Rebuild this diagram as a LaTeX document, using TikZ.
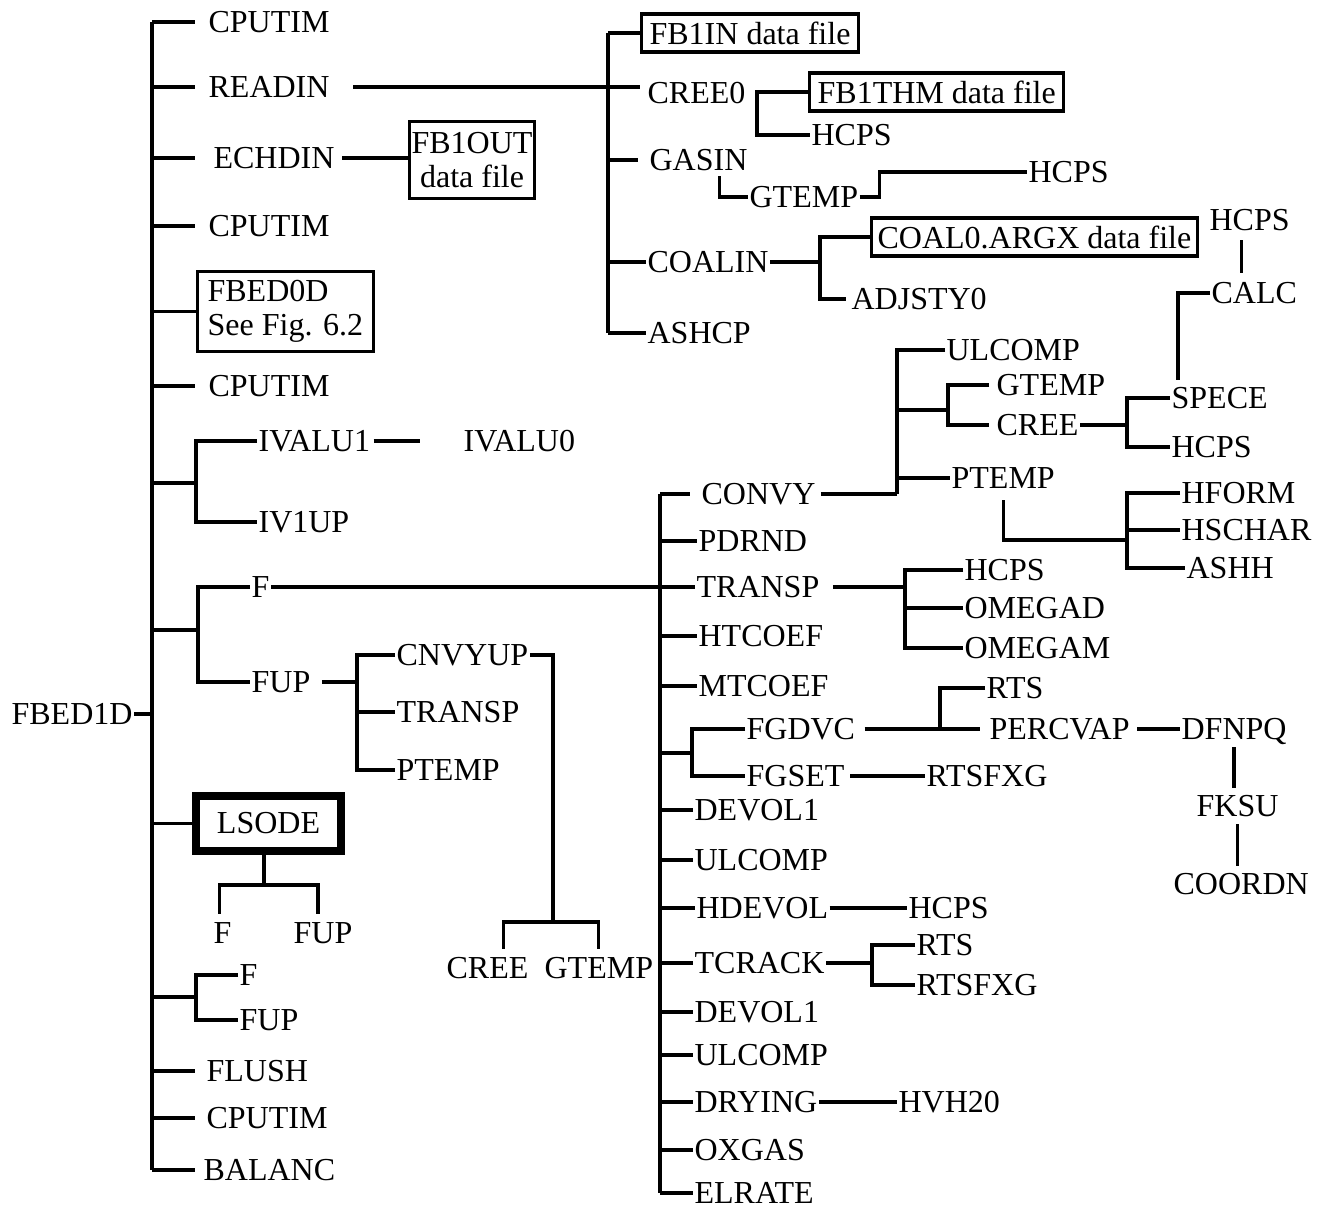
\documentclass[tikz,border=0pt]{standalone}
\usepackage{fontspec}
\setmainfont{Liberation Serif}
\usetikzlibrary{positioning}

\begin{document}
\begin{tikzpicture}[x=0.5pt,y=-0.5pt,line width=1.6pt,font=\fontsize{16}{17}\selectfont,
    prog/.style={anchor=west,inner sep=0pt,text height=10.6pt,text depth=0pt},
    file/.style={draw,anchor=west,inner xsep=4pt,inner ysep=4pt,text height=11pt,text depth=0pt},
    twoline/.style={draw,anchor=north west,inner xsep=5pt,inner ysep=0pt},
    lsode/.style={draw,line width=4pt,minimum width=72.5pt,minimum height=27.5pt,inner sep=0pt}]
    \useasboundingbox (0,0) rectangle (1320,1211);

    % main column under FBED1D
    \node[prog] (fbed1d) at (10,714) {FBED1D};
    \node[prog] (cpua) at (207,22) {CPUTIM};
    \node[prog] (readin) at (207,87) {READIN};
    \node[prog] (echdin) at (212,158) {ECHDIN};
    \node[prog] (cpub) at (207,226) {CPUTIM};
    \node[twoline,align=left,minimum width=87pt,minimum height=40pt] (fbedz) at (196,270) {FBED0D\\See Fig. 6.2};
    \node[prog] (cpuc) at (207,386) {CPUTIM};
    \node[prog] (ivalua) at (257,441) {IVALU1};
    \node[prog] (ivaluz) at (462,441) {IVALU0};
    \node[prog] (ivup) at (257,522) {IV1UP};
    \node[prog] (fa) at (250,587) {F};
    \node[prog] (fupa) at (250,682) {FUP};
    \node[lsode] (lsode) at (268.5,823.5) {LSODE};
    \node[prog] (fb) at (212,933) {F};
    \node[prog] (fupb) at (292,933) {FUP};
    \node[prog] (fc) at (238,975) {F};
    \node[prog] (fupc) at (238,1020) {FUP};
    \node[prog] (flush) at (205,1071) {FLUSH};
    \node[prog] (cpud) at (205,1118) {CPUTIM};
    \node[prog] (balanc) at (202,1170) {BALANC};

    \coordinate (spa) at (152,0);
    \draw (fbed1d.east) -- (spa |- fbed1d);
    \draw (spa |- cpua) -- (spa |- balanc);
    \foreach \n in {cpua,readin,echdin,cpub,cpuc,flush,cpud,balanc}
        \draw (spa |- \n) -- +(43,0);
    \draw (spa |- fbedz.west) -- (fbedz.west);
    \draw (spa |- lsode) -- (lsode.west);

    \node[twoline,align=center,minimum width=60pt,minimum height=38.5pt,inner xsep=1pt] (fbout) at (408,120) {FB1OUT\\data file};
    \draw ([xshift=3pt]echdin.east) -- (echdin.east -| fbout.west);

    \coordinate (spb) at (196,483);
    \draw (spa |- spb) -- (spb);
    \draw (ivalua.west) -| (spb) |- (ivup.west);
    \draw ([xshift=1pt]ivalua.east) -- ([xshift=-21pt]ivaluz.west);

    \coordinate (spc) at (198,630);
    \draw (spa |- spc) -- (spc);
    \draw (fa.west) -| (spc) |- (fupa.west);

    % FUP branch
    \node[prog] (cnvyup) at (395,655) {CNVYUP};
    \node[prog] (transpb) at (395,712) {TRANSP};
    \node[prog] (ptempa) at (395,770) {PTEMP};
    \node[prog] (creea) at (445,968) {CREE};
    \node[prog] (gtempa) at (543,968) {GTEMP};
    \coordinate (spd) at (357,682);
    \coordinate (spe) at (553,922);
    \draw ([xshift=5pt]fupa.east) -- (spd);
    \draw (cnvyup.west) -| (spd) |- (ptempa.west);
    \draw (spd |- transpb) -- (transpb.west);
    \draw (cnvyup.east) -| (spe);
    \draw ([xshift=8pt,yshift=3.5pt]creea.north) |- (spe) -| ([yshift=3.5pt]gtempa.north);

    % LSODE
    \coordinate (spf) at (264,885);
    \draw (lsode.south -| spf) -- (spf);
    \draw ([xshift=-1.5pt,yshift=3.5pt]fb.north) |- (spf) -| ([xshift=-2.5pt,yshift=3.5pt]fupb.north);

    \coordinate (spg) at (196,997);
    \draw (spa |- spg) -- (spg);
    \draw (fc.west) -| (spg) |- (fupc.west);

    % READIN branch
    \node[file] (fbin) at (640,33) {FB1IN data file};
    \node[prog] (creez) at (646,93) {CREE0};
    \node[prog] (gasin) at (648,160) {GASIN};
    \node[prog] (coalin) at (646,262) {COALIN};
    \node[prog] (ashcp) at (646,333) {ASHCP};
    \coordinate (sph) at (608,0);
    \draw ([xshift=11pt]readin.east) -- ([xshift=-3pt]readin.east -| creez.west);
    \draw (sph |- fbin) -- (sph |- ashcp);
    \draw (sph |- fbin) -- (fbin.west);
    \draw (sph |- gasin) -- +(30,0);
    \draw (sph |- coalin) -- (coalin.west);
    \draw (sph |- ashcp) -- (ashcp.west);

    \node[file] (fbthm) at (808,92) {FB1THM data file};
    \node[prog] (hcpsa) at (810,135) {HCPS};
    \coordinate (spi) at (757,0);
    \draw (fbthm.west) -| (spi |- hcpsa) -- (hcpsa.west);

    \node[prog] (gtempb) at (748,197) {GTEMP};
    \node[prog] (hcpsb) at (1027,172) {HCPS};
    \draw ([xshift=10.5pt,yshift=-2pt]gasin.south) |- (gtempb.west);
    \draw (gtempb.east) -- +(20,0) |- (hcpsb.west);

    \node[file,inner xsep=3pt] (coalx) at (870,237) {COAL0.ARGX data file};
    \node[prog] (adj) at (850,299) {ADJSTY0};
    \coordinate (spj) at (820,262);
    \draw (coalin.east) -- (spj);
    \draw (coalx.west) -| (spj) |- ([xshift=-2pt]adj.west);

    \node[prog] (hcpsc) at (1208,220) {HCPS};
    \node[prog] (calc) at (1210,293) {CALC};
    \node[prog] (spece) at (1170,398) {SPECE};
    \draw ([xshift=-4pt,yshift=-4pt]hcpsc.south) -- ([xshift=-4pt,yshift=4pt]hcpsc.south |- calc.north);
    \draw (calc.west) -| ([xshift=4pt,yshift=3pt]spece.north west);

    % F branch
    \node[prog] (convy) at (700,494) {CONVY};
    \node[prog] (pdrnd) at (697,541) {PDRND};
    \node[prog] (transpa) at (695,587) {TRANSP};
    \node[prog] (htcoef) at (697,636) {HTCOEF};
    \node[prog] (mtcoef) at (697,686) {MTCOEF};
    \node[prog] (fgdvc) at (745,729) {FGDVC};
    \node[prog] (fgset) at (745,776) {FGSET};
    \node[prog] (devola) at (693,810) {DEVOL1};
    \node[prog] (ulcompa) at (693,860) {ULCOMP};
    \node[prog] (hdevol) at (695,908) {HDEVOL};
    \node[prog] (tcrack) at (693,963) {TCRACK};
    \node[prog] (devolb) at (693,1012) {DEVOL1};
    \node[prog] (ulcompb) at (693,1055) {ULCOMP};
    \node[prog] (drying) at (693,1102) {DRYING};
    \node[prog] (oxgas) at (693,1150) {OXGAS};
    \node[prog] (elrate) at (693,1193) {ELRATE};
    \coordinate (spk) at (660,0);
    \coordinate (spl) at (692,753);
    \draw (fa.east) -- (fa.east -| transpa.west);
    \draw (spk |- convy) -- (spk |- elrate);
    \draw (spk |- convy) -- +(30,0);
    \foreach \n in {pdrnd,htcoef,mtcoef,devola,ulcompa,hdevol,tcrack,devolb,ulcompb,drying,oxgas,elrate}
        \draw (spk |- \n) -- (\n.west);
    \draw (spk |- spl) -- (spl);
    \draw (fgdvc.west) -| (spl) |- (fgset.west);

    % CONVY
    \node[prog] (ulcompc) at (945,350) {ULCOMP};
    \node[prog] (gtempc) at (995,385) {GTEMP};
    \node[prog] (creeb) at (995,425) {CREE};
    \node[prog] (ptempb) at (950,478) {PTEMP};
    \node[prog] (hcpsd) at (1170,447) {HCPS};
    \node[prog] (hform) at (1180,493) {HFORM};
    \node[prog] (hschar) at (1180,530) {HSCHAR};
    \node[prog] (ashh) at (1185,568) {ASHH};
    \coordinate (spm) at (897,494);
    \coordinate (spn) at (948,410);
    \coordinate (spo) at (1127,425);
    \coordinate (spp) at (1127,540);
    \draw ([xshift=2pt]convy.east) -- (spm);
    \draw (ulcompc.west) -| (spm);
    \draw (spm |- ptempb) -- (ptempb.west);
    \draw (spm |- spn) -- (spn);
    \draw ([xshift=-3pt]gtempc.west) -| (spn) |- ([xshift=-3pt]creeb.west);
    \draw (creeb.east) -- (spo);
    \draw (spece.west) -| (spo) |- (hcpsd.west);
    \draw ([yshift=-5pt]ptempb.south) |- (spp);
    \draw (hform.west) -| (spp |- ashh) -- (ashh.west);
    \draw (spp |- hschar) -- (hschar.west);

    % TRANSP
    \node[prog] (hcpse) at (963,570) {HCPS};
    \node[prog] (omegad) at (963,608) {OMEGAD};
    \node[prog] (omegam) at (963,648) {OMEGAM};
    \coordinate (spq) at (905,587);
    \draw ([xshift=6pt]transpa.east) -- (spq);
    \draw (hcpse.west) -| (spq |- omegam) -- (omegam.west);
    \draw (spq |- omegad) -- (omegad.west);

    % FGDVC / FGSET
    \node[prog] (rtsa) at (985,688) {RTS};
    \node[prog] (percvap) at (988,729) {PERCVAP};
    \node[prog] (dfnpq) at (1180,729) {DFNPQ};
    \node[prog] (fksu) at (1195,806) {FKSU};
    \node[prog] (coordn) at (1172,884) {COORDN};
    \node[prog] (rtsfxga) at (925,776) {RTSFXG};
    \coordinate (spr) at (940,729);
    \draw ([xshift=4pt]fgdvc.east) -- ([xshift=-4pt]percvap.west);
    \draw (rtsa.west) -| (spr);
    \draw ([xshift=3pt]percvap.east) -- (dfnpq.west);
    \draw ([yshift=-3pt]dfnpq.south) -- ([yshift=3pt]dfnpq.south |- fksu.north);
    \draw ([yshift=-3pt]fksu.south) -- ([yshift=3pt]fksu.south |- coordn.north);
    \draw ([xshift=2pt]fgset.east) -- (rtsfxga.west);

    % HDEVOL, TCRACK, DRYING
    \node[prog] (hcpsf) at (907,908) {HCPS};
    \node[prog] (rtsb) at (915,945) {RTS};
    \node[prog] (rtsfxgb) at (915,985) {RTSFXG};
    \node[prog] (hvh) at (897,1102) {HVH20};
    \coordinate (sps) at (872,963);
    \draw (hdevol.east) -- (hcpsf.west);
    \draw (tcrack.east) -- (sps);
    \draw (rtsb.west) -| (sps) |- (rtsfxgb.west);
    \draw (drying.east) -- (hvh.west);
\end{tikzpicture}
\end{document}
